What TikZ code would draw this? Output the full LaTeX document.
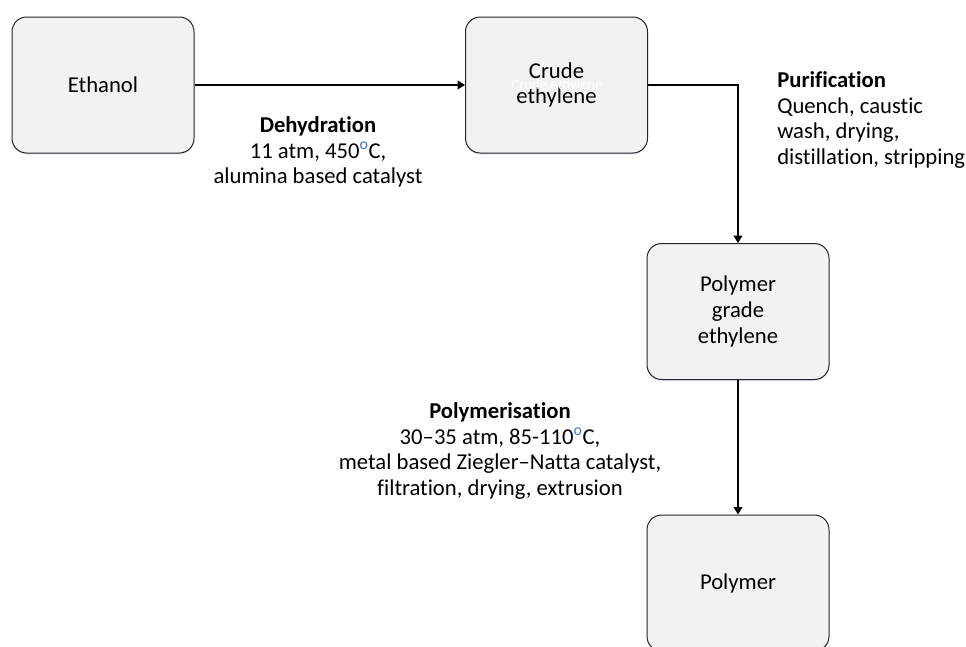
\documentclass[tikz,border=0pt]{standalone}
\usepackage{fontspec}
\setmainfont{Carlito}[Ligatures=NoCommon]
\usetikzlibrary{arrows.meta,shadows}
\definecolor{boxfill}{HTML}{F2F2F2}
\definecolor{boxline}{HTML}{262626}
\definecolor{degblue}{HTML}{4472C4}
\definecolor{shadowblue}{HTML}{C9D6E8}
\newcommand{\degC}{\textsuperscript{\textcolor{degblue}{o}}C}

\begin{document}
\begin{tikzpicture}[x=0.75pt,y=-0.75pt,
  unitbox/.style={draw=boxline, line width=0.75pt, fill=boxfill,
    rounded corners=11pt, minimum width=136.5pt, minimum height=102pt,
    align=center, inner sep=0pt, font=\fontsize{17}{19.3}\selectfont,
    drop shadow={shadow xshift=0pt, shadow yshift=-1.2pt,
      fill=shadowblue, opacity=0.6}},
  flow/.style={line width=1pt, draw=black,
    -{Triangle[length=5.5pt,width=6.5pt]}},
  note/.style={font=\fontsize{17}{19.3}\selectfont, inner sep=0pt}]

  \useasboundingbox (0,0) rectangle (966,646);

  % process units
  \node[unitbox] (eth)   at (103,85)    {Ethanol};
  \node[unitbox] (crude) at (556.5,85)  {Crude\\ethylene};
  \node[font=\fontsize{11}{13}\selectfont, text=white, inner sep=0pt]
    (crudetag) at (557,86) {Crude ethylene};
  \node[unitbox] (pge)   at (738,311.5) {Polymer\\grade\\ethylene};
  \node[unitbox] (poly)  at (738,583)   {Polymer};

  % process steps
  \node[note, align=center] (dehyd) at (318,152)
    {\textbf{Dehydration}\\11 atm, 450\degC,\\alumina based catalyst};
  \node[note, align=left, anchor=west] (purif) at (777,120)
    {\textbf{Purification}\\Quench, caustic\\wash, drying,\\distillation, stripping};
  \node[note, align=center] (polym) at (500,451)
    {\textbf{Polymerisation}\\30--35 atm, 85-110\degC,\\metal based Ziegler--Natta catalyst,\\filtration, drying, extrusion};

  % flows
  \draw[flow] (eth.east) -- (crude.west);
  \draw[flow] (crude.east) -| (pge.north);
  \draw[flow] (pge.south) -- (poly.north);
\end{tikzpicture}
\end{document}
